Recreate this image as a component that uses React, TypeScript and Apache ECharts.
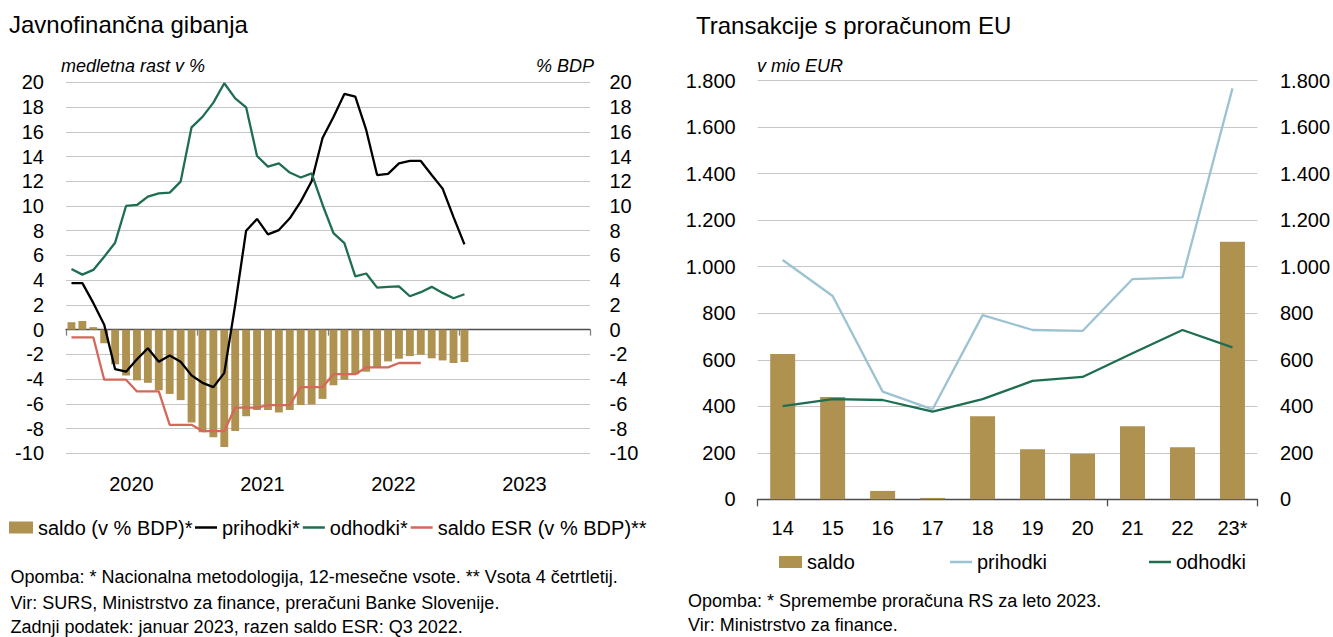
import React, { useEffect, useRef } from 'react';
import * as echarts from 'echarts';

// ---------- Left chart data (monthly, Jan 2020 – Jan 2023) ----------
const years = ['2020', '2021', '2022', '2023'];
const months = years.flatMap((y) =>
  ['01', '02', '03', '04', '05', '06', '07', '08', '09', '10', '11', '12'].map((m) => `${y}-${m}`)
);

const saldoBDP = [
  0.6, 0.7, 0.2, -1.1, -2.8, -3.7, -4.1, -4.3, -4.9, -5.2, -5.7, -7.5,
  -8.3, -8.7, -9.5, -8.2, -7.0, -6.5, -6.5, -6.7, -6.5, -6.1, -6.05, -5.6,
  -4.5, -4.05, -3.6, -3.4, -3.05, -2.57, -2.35, -2.14, -2.03, -2.32, -2.49, -2.7,
  -2.62,
];
const prihodkiRast = [
  3.76, 3.76, 2.16, 0.4, -3.2, -3.4, -2.4, -1.5, -2.6, -2.1, -2.6, -3.7,
  -4.3, -4.65, -3.5, 2.0, 8.0, 8.95, 7.7, 8.05, 9.0, 10.35, 12.0, 15.5,
  17.2, 19.06, 18.85, 16.15, 12.5, 12.6, 13.45, 13.64, 13.64, 12.5, 11.4, 9.1,
  6.9,
];
const odhodkiRast = [
  4.9, 4.45, 4.83, 5.9, 7.03, 10.0, 10.08, 10.75, 11.02, 11.08, 11.97, 16.36,
  17.2, 18.36, 19.92, 18.7, 17.98, 14.04, 13.18, 13.45, 12.7, 12.3, 12.64, 10.1,
  7.8, 7.0, 4.3, 4.54, 3.4, 3.46, 3.5, 2.7, 3.03, 3.46, 2.97, 2.54,
  2.86,
];
const saldoESR = [
  -0.62, -0.62, -0.62, -4.05, -4.05, -4.05, -5.0, -5.0, -5.0, -7.7, -7.7, -7.7,
  -8.2, -8.2, -8.2, -6.3, -6.3, -6.3, -6.1, -6.1, -6.1, -4.65, -4.65, -4.65,
  -3.6, -3.6, -3.6, -3.05, -3.05, -3.05, -2.7, -2.7, -2.7,
];

// ---------- Right chart data ----------
const euYears = ['14', '15', '16', '17', '18', '19', '20', '21', '22', '23*'];
const euSaldo = [625, 440, 36, 6, 357, 215, 196, 314, 224, 1107];
const euPrihodki = [1029, 874, 463, 387, 792, 728, 724, 947, 954, 1767];
const euOdhodki = [401, 431, 427, 377, 431, 509, 526, 628, 728, 653];

const FONT = '"Liberation Sans", Arial, Helvetica, sans-serif';
const GOLD = '#af9150';
const GREEN = '#1f6e50';
const RED = '#d4685a';
const BLUE = '#9cc3d2';
const GRIDC = '#c6c6c6';
const AXISC = '#4d4d4d';

const txt = (
  text: string,
  x: number,
  y: number,
  size: number,
  opts: { italic?: boolean; align?: string } = {}
) => ({
  type: 'text',
  x,
  y,
  silent: true,
  style: {
    text,
    fill: '#000',
    fontFamily: FONT,
    fontSize: size,
    fontStyle: opts.italic ? 'italic' : 'normal',
    align: opts.align || 'left',
    textAlign: opts.align || 'left',
    verticalAlign: 'middle',
    textVerticalAlign: 'middle',
  },
});

const thousands = (v: number) => {
  const s = String(Math.round(v));
  return s.replace(/\B(?=(\d{3})+(?!\d))/g, '.');
};

const App: React.FC = () => {
  const ref = useRef<HTMLDivElement>(null);

  useEffect(() => {
    if (!ref.current) return;
    const chart = echarts.init(ref.current, undefined, { renderer: 'svg' });

    const axisLabelBase = { color: '#000', fontSize: 20, fontFamily: FONT };
    const legendText = { color: '#000', fontSize: 20, fontFamily: FONT };

    const option: any = {
      animation: false,
      backgroundColor: '#ffffff',
      textStyle: { fontFamily: FONT },
      grid: [
        { left: 66, top: 82.3, width: 524, height: 371 },
        { left: 757.7, top: 80.7, width: 500.6, height: 418.6 },
      ],
      xAxis: [
        {
          gridIndex: 0,
          type: 'category',
          data: years,
          boundaryGap: true,
          axisLine: { show: true, onZero: true, lineStyle: { color: AXISC, width: 1.3 } },
          axisTick: { show: true, interval: 0, length: 6, lineStyle: { color: '#808080', width: 1.3 } },
          axisLabel: { show: false },
          splitLine: { show: false },
        },
        {
          gridIndex: 0,
          type: 'category',
          data: years,
          position: 'bottom',
          boundaryGap: true,
          axisLine: { show: false, onZero: false },
          axisTick: { show: false },
          axisLabel: { ...axisLabelBase, interval: 0, margin: 20.5 },
          splitLine: { show: false },
        },
        {
          gridIndex: 0,
          type: 'category',
          data: months,
          show: false,
          boundaryGap: true,
        },
        {
          gridIndex: 1,
          type: 'category',
          data: euYears,
          boundaryGap: true,
          axisLine: { show: true, onZero: true, lineStyle: { color: AXISC, width: 1.3 } },
          axisTick: {
            show: true,
            interval: (i: number) => i === 0 || i === 7,
            length: 7,
            lineStyle: { color: AXISC, width: 1.3 },
          },
          axisLabel: { ...axisLabelBase, interval: 0, margin: 19 },
          splitLine: { show: false },
        },
      ],
      yAxis: [
        {
          gridIndex: 0,
          type: 'value',
          min: -10,
          max: 20,
          interval: 2,
          position: 'left',
          axisLine: { show: false },
          axisTick: { show: false },
          axisLabel: { ...axisLabelBase, margin: 22 },
          splitLine: { show: true, lineStyle: { color: GRIDC, width: 1 } },
        },
        {
          gridIndex: 0,
          type: 'value',
          min: -10,
          max: 20,
          interval: 2,
          position: 'right',
          axisLine: { show: false },
          axisTick: { show: false },
          axisLabel: { ...axisLabelBase, margin: 19.5 },
          splitLine: { show: false },
        },
        {
          gridIndex: 1,
          type: 'value',
          min: 0,
          max: 1800,
          interval: 200,
          position: 'left',
          axisLine: { show: false },
          axisTick: { show: false },
          axisLabel: { ...axisLabelBase, margin: 22, formatter: thousands },
          splitLine: { show: true, lineStyle: { color: GRIDC, width: 1 } },
        },
        {
          gridIndex: 1,
          type: 'value',
          min: 0,
          max: 1800,
          interval: 200,
          position: 'right',
          axisLine: { show: false },
          axisTick: { show: false },
          axisLabel: { ...axisLabelBase, margin: 22.5, formatter: thousands },
          splitLine: { show: false },
        },
      ],
      legend: [
        {
          data: ['saldo (v % BDP)*'],
          left: 9,
          top: 517.5,
          padding: 0,
          icon: 'rect',
          itemWidth: 24,
          itemHeight: 12,
          selectedMode: false,
          textStyle: legendText,
        },
        {
          data: ['prihodki*', 'odhodki*', 'saldo ESR (v % BDP)**'],
          left: 195,
          top: 517.5,
          padding: 0,
          icon: 'rect',
          itemWidth: 22,
          itemHeight: 2.5,
          itemGap: 3,
          selectedMode: false,
          textStyle: legendText,
        },
        {
          data: ['saldo'],
          left: 779,
          top: 552,
          padding: 0,
          icon: 'rect',
          itemWidth: 23,
          itemHeight: 12,
          selectedMode: false,
          textStyle: legendText,
        },
        {
          data: ['prihodki'],
          left: 950,
          top: 552,
          padding: 0,
          icon: 'rect',
          itemWidth: 22,
          itemHeight: 2.5,
          selectedMode: false,
          textStyle: legendText,
        },
        {
          data: ['odhodki'],
          left: 1149,
          top: 552,
          padding: 0,
          icon: 'rect',
          itemWidth: 22,
          itemHeight: 2.5,
          selectedMode: false,
          textStyle: legendText,
        },
      ],
      series: [
        {
          name: 'saldo (v % BDP)*',
          type: 'bar',
          xAxisIndex: 2,
          yAxisIndex: 0,
          data: saldoBDP,
          barWidth: '72%',
          color: GOLD,
          itemStyle: { color: GOLD },
        },
        {
          name: 'prihodki*',
          type: 'line',
          xAxisIndex: 2,
          yAxisIndex: 0,
          data: prihodkiRast,
          symbol: 'none',
          color: '#000000',
          lineStyle: { color: '#000000', width: 2.3 },
          z: 3,
        },
        {
          name: 'odhodki*',
          type: 'line',
          xAxisIndex: 2,
          yAxisIndex: 0,
          data: odhodkiRast,
          symbol: 'none',
          color: GREEN,
          lineStyle: { color: GREEN, width: 2.3 },
          z: 3,
        },
        {
          name: 'saldo ESR (v % BDP)**',
          type: 'line',
          xAxisIndex: 2,
          yAxisIndex: 0,
          data: saldoESR,
          symbol: 'none',
          color: RED,
          lineStyle: { color: RED, width: 2.3 },
          z: 3,
        },
        {
          name: 'saldo',
          type: 'bar',
          xAxisIndex: 3,
          yAxisIndex: 2,
          data: euSaldo,
          barWidth: '50%',
          color: GOLD,
          itemStyle: { color: GOLD },
        },
        {
          name: 'prihodki',
          type: 'line',
          xAxisIndex: 3,
          yAxisIndex: 2,
          data: euPrihodki,
          symbol: 'none',
          color: BLUE,
          lineStyle: { color: BLUE, width: 2.3 },
          z: 3,
        },
        {
          name: 'odhodki',
          type: 'line',
          xAxisIndex: 3,
          yAxisIndex: 2,
          data: euOdhodki,
          symbol: 'none',
          color: GREEN,
          lineStyle: { color: GREEN, width: 2.3 },
          z: 3,
        },
      ],
      graphic: [
        txt('Javnofinančna gibanja', 9, 24.2, 24),
        txt('Transakcije s proračunom EU', 696, 25.8, 24),
        txt('medletna rast v %', 61, 65.5, 18, { italic: true }),
        txt('% BDP', 594, 65.5, 18, { italic: true, align: 'right' }),
        txt('v mio EUR', 757, 65.5, 18, { italic: true }),
        txt('Opomba: * Nacionalna metodologija, 12-mesečne vsote. ** Vsota 4 četrtletij.', 10.5, 577, 18),
        txt('Vir: SURS, Ministrstvo za finance, preračuni Banke Slovenije.', 10.5, 603.3, 18),
        txt('Zadnji podatek: januar 2023, razen saldo ESR: Q3 2022.', 10.5, 626.5, 18),
        txt('Opomba: * Spremembe proračuna RS za leto 2023.', 688, 600.5, 18),
        txt('Vir: Ministrstvo za finance.', 688, 625, 18),
      ],
    };

    chart.setOption(option);
    return () => {
      chart.dispose();
    };
  }, []);

  return (
    <div
      ref={ref}
      style={{ position: 'absolute', left: 0, top: 0, width: 1333, height: 637, background: '#fff' }}
    />
  );
};

export default App;
